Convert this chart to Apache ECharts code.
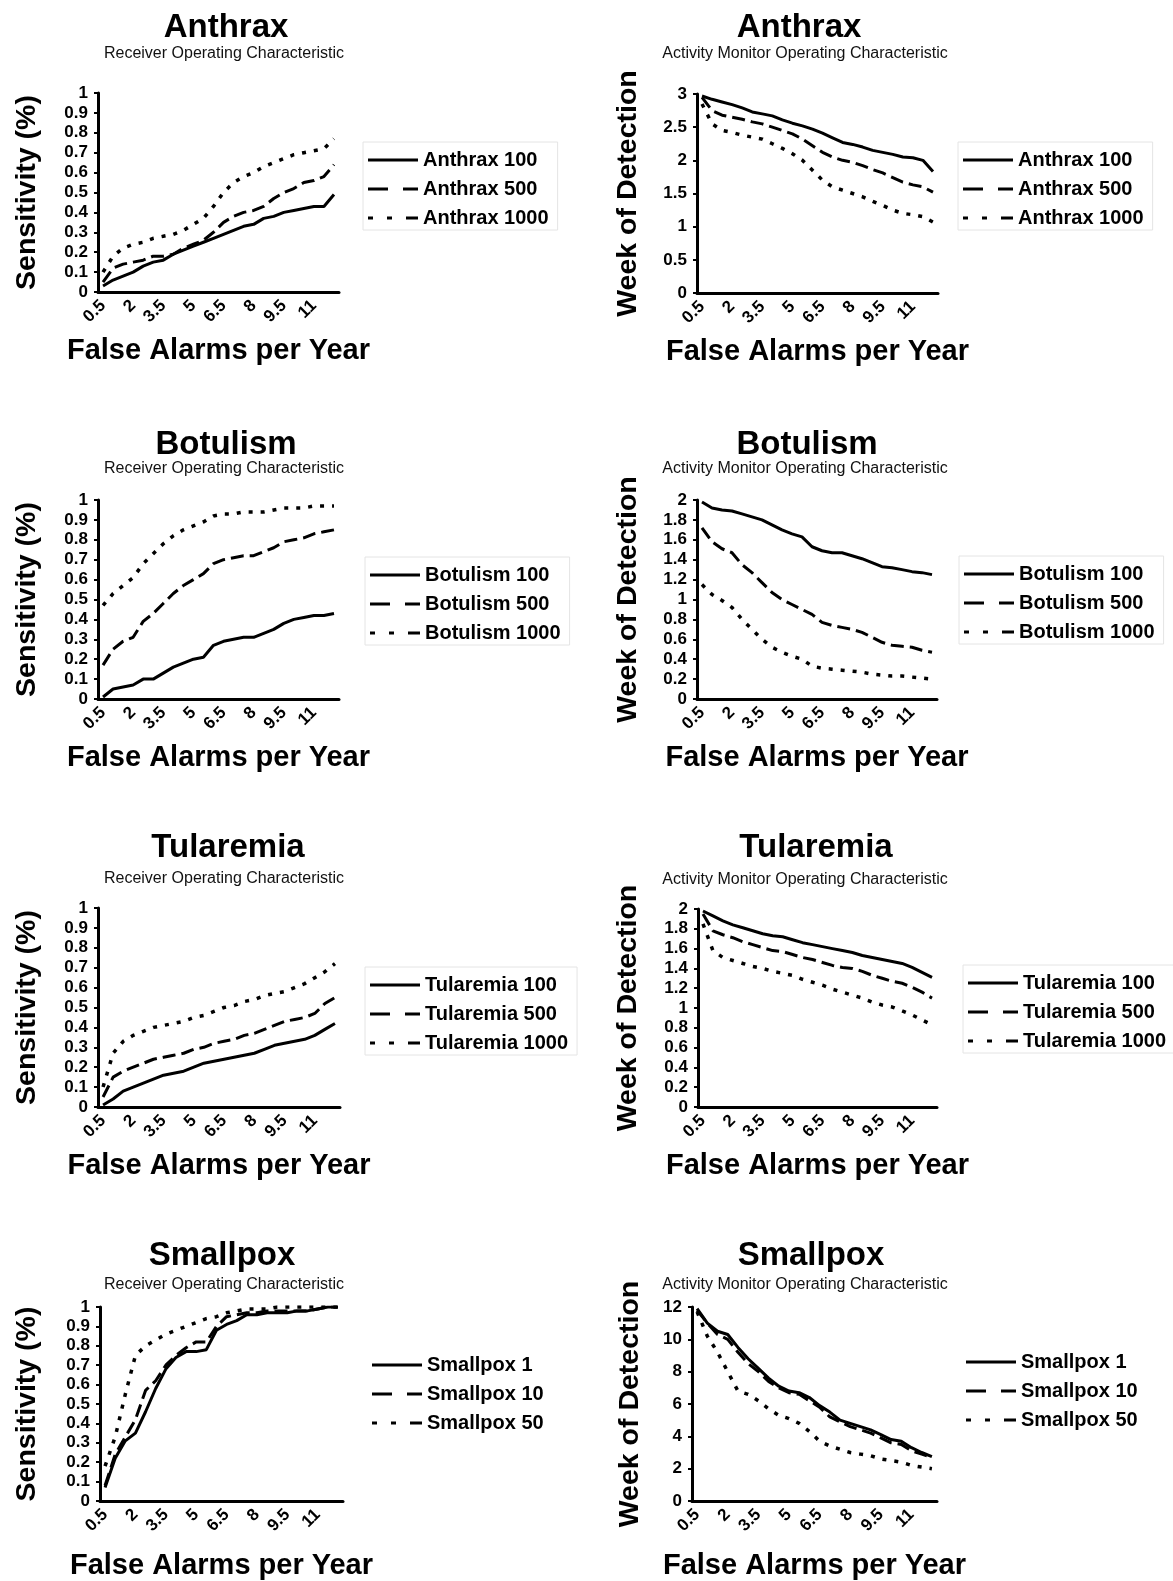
<!DOCTYPE html>
<html>
<head>
<meta charset="utf-8">
<title>ROC / AMOC curves</title>
<script src="https://cdn.jsdelivr.net/npm/echarts@6/dist/echarts.min.js"></script>
<style>
html, body { margin: 0; padding: 0; background: #fff; }
#main { width: 1173px; height: 1581px; }
</style>
</head>
<body>
<div id="main"></div>
<script>
// x categories: false alarms per year
var xCats = ['0.5', '1', '1.5', '2', '2.5', '3', '3.5', '4', '4.5', '5', '5.5', '6',
    '6.5', '7', '7.5', '8', '8.5', '9', '9.5', '10', '10.5', '11', '11.5', '12'];

// Anthrax
var anthraxRoc100 = [0.03, 0.06, 0.08, 0.10, 0.13, 0.15, 0.16, 0.19, 0.21, 0.23, 0.25, 0.27, 0.29, 0.31, 0.33, 0.34, 0.37, 0.38, 0.40, 0.41, 0.42, 0.43, 0.43, 0.49];
var anthraxRoc500 = [0.05, 0.12, 0.14, 0.15, 0.16, 0.18, 0.18, 0.19, 0.22, 0.24, 0.26, 0.30, 0.35, 0.38, 0.40, 0.41, 0.43, 0.47, 0.50, 0.52, 0.55, 0.56, 0.58, 0.64];
var anthraxRoc1000 = [0.10, 0.18, 0.22, 0.24, 0.25, 0.27, 0.28, 0.29, 0.31, 0.34, 0.37, 0.43, 0.50, 0.55, 0.58, 0.60, 0.63, 0.65, 0.67, 0.69, 0.70, 0.71, 0.72, 0.77];
var anthraxAmoc100 = [2.97, 2.92, 2.88, 2.84, 2.79, 2.73, 2.70, 2.67, 2.61, 2.56, 2.52, 2.47, 2.41, 2.34, 2.27, 2.24, 2.20, 2.15, 2.12, 2.09, 2.05, 2.04, 2.00, 1.83];
var anthraxAmoc500 = [2.95, 2.75, 2.68, 2.65, 2.62, 2.58, 2.55, 2.50, 2.45, 2.40, 2.32, 2.22, 2.12, 2.05, 2.00, 1.97, 1.92, 1.86, 1.81, 1.74, 1.67, 1.63, 1.60, 1.52];
var anthraxAmoc1000 = [2.85, 2.55, 2.45, 2.42, 2.38, 2.35, 2.32, 2.25, 2.18, 2.10, 2.00, 1.85, 1.70, 1.60, 1.55, 1.50, 1.45, 1.38, 1.32, 1.25, 1.20, 1.18, 1.15, 1.07];

// Botulism
var botulismRoc100 = [0.01, 0.05, 0.06, 0.07, 0.10, 0.10, 0.13, 0.16, 0.18, 0.20, 0.21, 0.27, 0.29, 0.30, 0.31, 0.31, 0.33, 0.35, 0.38, 0.40, 0.41, 0.42, 0.42, 0.43];
var botulismRoc500 = [0.17, 0.25, 0.29, 0.31, 0.39, 0.43, 0.48, 0.53, 0.57, 0.60, 0.63, 0.68, 0.70, 0.71, 0.72, 0.72, 0.74, 0.76, 0.79, 0.80, 0.81, 0.83, 0.84, 0.85];
var botulismRoc1000 = [0.47, 0.53, 0.57, 0.61, 0.68, 0.73, 0.78, 0.82, 0.85, 0.87, 0.89, 0.92, 0.93, 0.93, 0.94, 0.94, 0.94, 0.95, 0.96, 0.96, 0.96, 0.97, 0.97, 0.97];
var botulismAmoc100 = [1.98, 1.92, 1.90, 1.89, 1.86, 1.83, 1.80, 1.75, 1.70, 1.66, 1.63, 1.53, 1.49, 1.47, 1.47, 1.44, 1.41, 1.37, 1.33, 1.32, 1.30, 1.28, 1.27, 1.25];
var botulismAmoc500 = [1.72, 1.58, 1.51, 1.47, 1.35, 1.27, 1.17, 1.07, 1.00, 0.95, 0.90, 0.85, 0.77, 0.74, 0.72, 0.70, 0.67, 0.62, 0.57, 0.54, 0.53, 0.52, 0.49, 0.47];
var botulismAmoc1000 = [1.15, 1.05, 0.99, 0.92, 0.80, 0.70, 0.60, 0.52, 0.47, 0.43, 0.40, 0.33, 0.31, 0.30, 0.29, 0.28, 0.27, 0.25, 0.24, 0.23, 0.23, 0.22, 0.21, 0.20];

// Tularemia
var tularemiaRoc100 = [0.01, 0.04, 0.08, 0.10, 0.12, 0.14, 0.16, 0.17, 0.18, 0.20, 0.22, 0.23, 0.24, 0.25, 0.26, 0.27, 0.29, 0.31, 0.32, 0.33, 0.34, 0.36, 0.39, 0.42];
var tularemiaRoc500 = [0.05, 0.15, 0.18, 0.20, 0.22, 0.24, 0.25, 0.26, 0.27, 0.29, 0.30, 0.32, 0.33, 0.34, 0.36, 0.37, 0.39, 0.41, 0.43, 0.44, 0.45, 0.47, 0.52, 0.55];
var tularemiaRoc1000 = [0.10, 0.27, 0.33, 0.36, 0.38, 0.40, 0.41, 0.42, 0.43, 0.45, 0.46, 0.48, 0.50, 0.51, 0.53, 0.54, 0.56, 0.57, 0.58, 0.60, 0.62, 0.65, 0.68, 0.72];
var tularemiaAmoc100 = [1.98, 1.93, 1.88, 1.84, 1.81, 1.78, 1.75, 1.73, 1.72, 1.69, 1.66, 1.64, 1.62, 1.60, 1.58, 1.56, 1.53, 1.51, 1.49, 1.47, 1.45, 1.41, 1.36, 1.31];
var tularemiaAmoc500 = [1.95, 1.78, 1.74, 1.71, 1.67, 1.64, 1.61, 1.58, 1.57, 1.54, 1.51, 1.49, 1.46, 1.43, 1.41, 1.40, 1.37, 1.33, 1.30, 1.27, 1.25, 1.21, 1.16, 1.10];
var tularemiaAmoc1000 = [1.85, 1.58, 1.51, 1.48, 1.45, 1.42, 1.40, 1.37, 1.35, 1.33, 1.29, 1.26, 1.23, 1.19, 1.16, 1.13, 1.10, 1.06, 1.03, 1.01, 0.97, 0.93, 0.88, 0.83];

// Smallpox
var smallpoxRoc1 = [0.07, 0.22, 0.31, 0.35, 0.46, 0.58, 0.68, 0.74, 0.77, 0.77, 0.78, 0.88, 0.91, 0.93, 0.96, 0.96, 0.97, 0.97, 0.97, 0.98, 0.98, 0.99, 1.00, 1.00];
var smallpoxRoc10 = [0.08, 0.24, 0.33, 0.42, 0.57, 0.62, 0.70, 0.75, 0.79, 0.82, 0.82, 0.90, 0.95, 0.96, 0.97, 0.97, 0.98, 0.98, 0.98, 0.98, 0.98, 0.99, 1.00, 1.00];
var smallpoxRoc50 = [0.18, 0.33, 0.55, 0.75, 0.80, 0.83, 0.86, 0.88, 0.90, 0.92, 0.94, 0.95, 0.97, 0.98, 0.99, 0.99, 0.99, 1.00, 1.00, 1.00, 1.00, 1.00, 1.00, 1.00];
var smallpoxAmoc1 = [11.9, 11.0, 10.5, 10.3, 9.5, 8.8, 8.2, 7.6, 7.1, 6.8, 6.7, 6.4, 5.9, 5.5, 5.0, 4.8, 4.6, 4.4, 4.1, 3.8, 3.7, 3.3, 3.0, 2.75];
var smallpoxAmoc10 = [11.8, 11.0, 10.3, 10.0, 9.2, 8.5, 8.0, 7.4, 7.0, 6.7, 6.6, 6.2, 5.8, 5.2, 4.9, 4.6, 4.4, 4.2, 3.9, 3.6, 3.5, 3.1, 2.9, 2.7];
var smallpoxAmoc50 = [11.7, 10.2, 9.2, 8.0, 6.8, 6.6, 6.2, 5.7, 5.3, 5.1, 4.8, 4.3, 3.7, 3.4, 3.2, 3.0, 2.9, 2.8, 2.6, 2.5, 2.4, 2.2, 2.1, 2.0];

var FONT = '"Liberation Sans", Arial, Helvetica, sans-serif';
var ROC = 'Receiver Operating Characteristic';
var AMOC = 'Activity Monitor Operating Characteristic';

// one entry per small chart (layout only, the values live in the arrays above)
// grid: [left, top, width, height], legendAt: [line start x, first item centre y]
var panels = [
    { title: 'Anthrax', sub: ROC, yName: 'Sensitivity (%)', yMax: 1, yStep: 0.1,
      names: ['Anthrax 100', 'Anthrax 500', 'Anthrax 1000'], data: [anthraxRoc100, anthraxRoc500, anthraxRoc1000],
      grid: [98, 93, 241, 199], titleAt: [226, 28], subAt: [224, 54], yGap: 56, xGap: 44, legendAt: [368, 160], box: true },
    { title: 'Anthrax', sub: AMOC, yName: 'Week of Detection', yMax: 3, yStep: 0.5,
      names: ['Anthrax 100', 'Anthrax 500', 'Anthrax 1000'], data: [anthraxAmoc100, anthraxAmoc500, anthraxAmoc1000],
      grid: [697, 94, 241, 199], titleAt: [799, 28], subAt: [805, 54], yGap: 54, xGap: 44, legendAt: [963, 160], box: true },
    { title: 'Botulism', sub: ROC, yName: 'Sensitivity (%)', yMax: 1, yStep: 0.1,
      names: ['Botulism 100', 'Botulism 500', 'Botulism 1000'], data: [botulismRoc100, botulismRoc500, botulismRoc1000],
      grid: [98, 500, 241, 199], titleAt: [226, 445], subAt: [224, 469], yGap: 56, xGap: 44, legendAt: [370, 575], box: true },
    { title: 'Botulism', sub: AMOC, yName: 'Week of Detection', yMax: 2, yStep: 0.2,
      names: ['Botulism 100', 'Botulism 500', 'Botulism 1000'], data: [botulismAmoc100, botulismAmoc500, botulismAmoc1000],
      grid: [697, 500, 240, 199], titleAt: [807, 445], subAt: [805, 469], yGap: 54, xGap: 44, legendAt: [964, 574], box: true },
    { title: 'Tularemia', sub: ROC, yName: 'Sensitivity (%)', yMax: 1, yStep: 0.1,
      names: ['Tularemia 100', 'Tularemia 500', 'Tularemia 1000'], data: [tularemiaRoc100, tularemiaRoc500, tularemiaRoc1000],
      grid: [98, 908, 242, 199], titleAt: [228, 848], subAt: [224, 879], yGap: 56, xGap: 44, legendAt: [370, 985], box: true },
    { title: 'Tularemia', sub: AMOC, yName: 'Week of Detection', yMax: 2, yStep: 0.2,
      names: ['Tularemia 100', 'Tularemia 500', 'Tularemia 1000'], data: [tularemiaAmoc100, tularemiaAmoc500, tularemiaAmoc1000],
      grid: [698, 909, 239, 198], titleAt: [816, 848], subAt: [805, 880], yGap: 55, xGap: 44, legendAt: [968, 983], box: true },
    { title: 'Smallpox', sub: ROC, yName: 'Sensitivity (%)', yMax: 1, yStep: 0.1,
      names: ['Smallpox 1', 'Smallpox 10', 'Smallpox 50'], data: [smallpoxRoc1, smallpoxRoc10, smallpoxRoc50],
      grid: [100, 1307, 243, 200], titleAt: [222, 1256], subAt: [224, 1285], yGap: 58, xGap: 50, legendAt: [372, 1365], box: false },
    { title: 'Smallpox', sub: AMOC, yName: 'Week of Detection', yMax: 12, yStep: 2,
      names: ['Smallpox 1', 'Smallpox 10', 'Smallpox 50'], data: [smallpoxAmoc1, smallpoxAmoc10, smallpoxAmoc50],
      grid: [692, 1307, 245, 200], titleAt: [811, 1256], subAt: [805, 1285], yGap: 47, xGap: 50, legendAt: [966, 1362], box: false }
];

// solid, long dash, dots
var lineTypes = ['solid', [13, 6], [4, 8]];
var lineWidths = [3, 3, 3.5];
// legend keys drawn as filled bars (50 x 3)
var legendIcons = [
    'path://M0,0H50V3H0Z',
    'path://M0,0H20V3H0Z M35,0H50V3H35Z',
    'path://M0,0H5V3H0Z M19,0H24V3H19Z M38,0H50V3H38Z'
];

var option = {
    backgroundColor: '#fff',
    animation: false,
    title: [],
    grid: [],
    xAxis: [],
    yAxis: [],
    legend: [],
    series: []
};

panels.forEach(function (p, i) {
    //title and subtitle
    option.title.push({
        text: p.title, left: p.titleAt[0], top: p.titleAt[1], padding: 0,
        textAlign: 'center', textVerticalAlign: 'middle',
        textStyle: { fontFamily: FONT, fontSize: 33, fontWeight: 'bold', color: '#000' }
    });
    option.title.push({
        text: p.sub, left: p.subAt[0], top: p.subAt[1], padding: 0,
        textAlign: 'center', textVerticalAlign: 'middle',
        textStyle: { fontFamily: FONT, fontSize: 16, fontWeight: 'normal', color: '#111' }
    });

    option.grid.push({ left: p.grid[0], top: p.grid[1], width: p.grid[2], height: p.grid[3], containLabel: false });

    option.xAxis.push({
        type: 'category',
        gridIndex: i,
        data: xCats,
        boundaryGap: true,
        name: 'False Alarms per Year',
        nameLocation: 'middle',
        nameGap: p.xGap,
        nameTextStyle: { fontFamily: FONT, fontSize: 29, fontWeight: 'bold', color: '#000' },
        axisLine: { lineStyle: { color: '#000', width: 3 } },
        axisTick: { show: false },
        axisLabel: {
            interval: 2, rotate: 45, margin: 11,
            fontFamily: FONT, fontSize: 17, fontWeight: 'bold', color: '#000'
        },
        splitLine: { show: false }
    });

    option.yAxis.push({
        type: 'value',
        gridIndex: i,
        min: 0,
        max: p.yMax,
        interval: p.yStep,
        name: p.yName,
        nameLocation: 'middle',
        nameRotate: 90,
        nameGap: p.yGap,
        nameTextStyle: { fontFamily: FONT, fontSize: 28.5, fontWeight: 'bold', color: '#000' },
        axisLine: { show: true, lineStyle: { color: '#000', width: 3 } },
        axisTick: { show: true, length: 4, lineStyle: { color: '#000', width: 2 } },
        axisLabel: { margin: 10, fontFamily: FONT, fontSize: 17, fontWeight: 'bold', color: '#000' },
        splitLine: { show: false }
    });

    option.legend.push({
        orient: 'vertical',
        left: p.legendAt[0] - 5,
        top: p.legendAt[1] - 18,
        padding: [8, 9, 2, 5],
        itemWidth: 50,
        itemHeight: 3,
        itemGap: 9,
        borderColor: p.box ? '#e4e4e4' : 'transparent',
        borderWidth: p.box ? 1 : 0,
        selectedMode: false,
        textStyle: { fontFamily: FONT, fontSize: 20, fontWeight: 'bold', color: '#000', lineHeight: 20 },
        data: p.names.map(function (n, k) {
            return { name: n, icon: legendIcons[k] };
        })
    });

    p.names.forEach(function (n, k) {
        option.series.push({
            name: n,
            type: 'line',
            xAxisIndex: i,
            yAxisIndex: i,
            data: p.data[k],
            symbol: 'none',
            silent: true,
            lineStyle: { color: '#000', width: lineWidths[k], type: lineTypes[k] },
            itemStyle: { color: '#000' }
        });
    });
});

var myChart = echarts.init(document.getElementById('main'));
myChart.setOption(option);
</script>
</body>
</html>
